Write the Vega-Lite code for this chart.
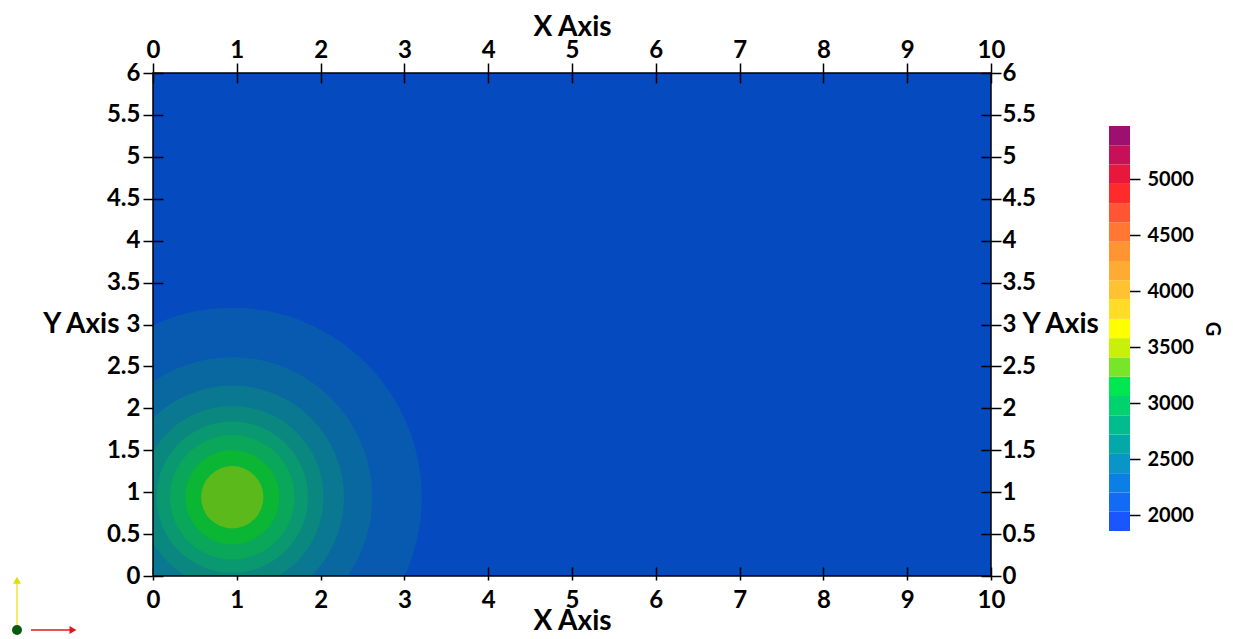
{
  "$schema": "https://vega.github.io/schema/vega-lite/v6.json",
  "padding": {"left": 11, "top": 13, "right": 5, "bottom": 3},
  "bounds": "flush",
  "spacing": 118,
  "background": "white",
  "resolve": {"scale": {"color": "independent", "size": "independent"}},
  "config": {
    "view": {"stroke": null},
    "font": "Lato",
    "axis": {
      "labelFont": "Lato", "titleFont": "Lato",
      "labelFontWeight": "bold", "titleFontWeight": "bold",
      "labelColor": "black", "titleColor": "black", "tickColor": "black",
      "labelFontSize": 24, "titleFontSize": 28,
      "grid": false, "domain": false,
      "labelOverlap": false, "labelFlush": false, "labelBound": false,
      "tickWidth": 1.5, "zindex": 1
    }
  },
  "hconcat": [
    {
      "width": 838,
      "height": 503,
      "view": {"fill": "#064ac0", "stroke": null},
      "layer": [
        {
          "data": {"values": [
            {"band": 2, "r": 2.261, "cx": 0.946, "cy": 0.94},
            {"band": 3, "r": 1.671, "cx": 0.946, "cy": 0.94},
            {"band": 4, "r": 1.333, "cx": 0.946, "cy": 0.94},
            {"band": 5, "r": 1.089, "cx": 0.946, "cy": 0.94},
            {"band": 6, "r": 0.903, "cx": 0.946, "cy": 0.94},
            {"band": 7, "r": 0.743, "cx": 0.946, "cy": 0.94},
            {"band": 8, "r": 0.561, "cx": 0.946, "cy": 0.94},
            {"band": 9, "r": 0.372, "cx": 0.946, "cy": 0.94}
          ]},
          "mark": {"type": "point", "filled": true, "opacity": 1, "clip": true, "strokeWidth": 0},
          "encoding": {
            "x": {
              "field": "cx", "type": "quantitative",
              "scale": {"domain": [0, 10], "nice": false, "zero": false},
              "axis": {
                "orient": "bottom", "values": [0, 1, 2, 3, 4, 5, 6, 7, 8, 9, 10],
                "offset": -9, "tickSize": 13, "labelPadding": 8,
                "title": "X Axis", "titleY": 54, "titleBaseline": "middle"
              }
            },
            "y": {
              "field": "cy", "type": "quantitative",
              "scale": {"domain": [0, 6], "nice": false, "zero": false},
              "axis": {
                "orient": "left", "values": [0, 0.5, 1, 1.5, 2, 2.5, 3, 3.5, 4, 4.5, 5, 5.5, 6],
                "format": "~g", "offset": -10, "tickSize": 20, "labelPadding": 3,
                "title": "Y Axis", "titleAngle": 0, "titleAlign": "right", "titleBaseline": "middle",
                "titleX": -44, "titleY": 251.5
              }
            },
            "size": {
              "field": "r", "type": "quantitative",
              "scale": {"type": "pow", "exponent": 2, "domain": [0, 3], "range": [0, 252808]},
              "legend": null
            },
            "color": {
              "field": "band", "type": "ordinal",
              "scale": {
                "domain": [2, 3, 4, 5, 6, 7, 8, 9],
                "range": ["#0859b0", "#0a68a0", "#0a7890", "#0a8880", "#0a9870", "#0aa65a", "#0bb634", "#5cb91b"]
              },
              "legend": null
            }
          }
        },
        {
          "data": {"values": [{"x0": 0, "x1": 10, "y0": 0, "y1": 6}]},
          "mark": {"type": "rect", "filled": false, "color": "black", "strokeWidth": 1.5},
          "encoding": {
            "x": {
              "field": "x0", "type": "quantitative",
              "axis": {
                "orient": "top", "values": [0, 1, 2, 3, 4, 5, 6, 7, 8, 9, 10],
                "offset": -10, "tickSize": 20, "labelPadding": 1,
                "title": "X Axis", "titleY": -55.4, "titleBaseline": "middle"
              }
            },
            "x2": {"field": "x1"},
            "y": {
              "field": "y0", "type": "quantitative",
              "axis": {
                "orient": "right", "values": [0, 0.5, 1, 1.5, 2, 2.5, 3, 3.5, 4, 4.5, 5, 5.5, 6],
                "format": "~g", "offset": -10, "tickSize": 20, "labelPadding": 1,
                "title": "Y Axis", "titleAngle": 0, "titleAlign": "left", "titleBaseline": "middle",
                "titleX": 41, "titleY": 251.5
              }
            },
            "y2": {"field": "y1"}
          }
        },
        {
          "data": {"values": [{"gx": -1.623, "gy": -0.644, "gy2": -0.07}]},
          "mark": {"type": "rule", "color": "#ecec30", "strokeWidth": 1.5, "clip": false},
          "encoding": {
            "x": {"field": "gx", "type": "quantitative", "axis": null},
            "y": {"field": "gy", "type": "quantitative", "axis": null},
            "y2": {"field": "gy2"}
          }
        },
        {
          "data": {"values": [{"gx": -1.456, "gx2": -0.98, "gy": -0.644}]},
          "mark": {"type": "rule", "color": "#e01818", "strokeWidth": 1.5, "clip": false},
          "encoding": {
            "x": {"field": "gx", "type": "quantitative", "axis": null},
            "x2": {"field": "gx2"},
            "y": {"field": "gy", "type": "quantitative", "axis": null}
          }
        },
        {
          "data": {"values": [{"gx": -1.623, "gy": -0.05}]},
          "mark": {"type": "point", "shape": "triangle-up", "filled": true, "opacity": 1, "color": "#e0e000", "size": 64, "clip": false},
          "encoding": {
            "x": {"field": "gx", "type": "quantitative", "axis": null},
            "y": {"field": "gy", "type": "quantitative", "axis": null}
          }
        },
        {
          "data": {"values": [{"gx": -0.955, "gy": -0.644}]},
          "mark": {"type": "point", "shape": "triangle-right", "filled": true, "opacity": 1, "color": "#e01818", "size": 64, "clip": false},
          "encoding": {
            "x": {"field": "gx", "type": "quantitative", "axis": null},
            "y": {"field": "gy", "type": "quantitative", "axis": null}
          }
        },
        {
          "data": {"values": [{"gx": -1.623, "gy": -0.644}]},
          "mark": {"type": "point", "shape": "circle", "filled": true, "opacity": 1, "color": "#0a5a14", "size": 100, "clip": false},
          "encoding": {
            "x": {"field": "gx", "type": "quantitative", "axis": null},
            "y": {"field": "gy", "type": "quantitative", "axis": null}
          }
        }
      ],
      "resolve": {"axis": {"x": "independent", "y": "independent"}}
    },
    {
      "width": 21,
      "height": 503,
      "data": {"values": [
        {"band": 1, "lo": 1859.8, "hi": 2032.0},
        {"band": 2, "lo": 2032.0, "hi": 2204.2},
        {"band": 3, "lo": 2204.2, "hi": 2376.4},
        {"band": 4, "lo": 2376.4, "hi": 2548.6},
        {"band": 5, "lo": 2548.6, "hi": 2720.8},
        {"band": 6, "lo": 2720.8, "hi": 2893.0},
        {"band": 7, "lo": 2893.0, "hi": 3065.2},
        {"band": 8, "lo": 3065.2, "hi": 3237.4},
        {"band": 9, "lo": 3237.4, "hi": 3409.6},
        {"band": 10, "lo": 3409.6, "hi": 3581.8},
        {"band": 11, "lo": 3581.8, "hi": 3754.0},
        {"band": 12, "lo": 3754.0, "hi": 3926.2},
        {"band": 13, "lo": 3926.2, "hi": 4098.4},
        {"band": 14, "lo": 4098.4, "hi": 4270.6},
        {"band": 15, "lo": 4270.6, "hi": 4442.8},
        {"band": 16, "lo": 4442.8, "hi": 4615.0},
        {"band": 17, "lo": 4615.0, "hi": 4787.2},
        {"band": 18, "lo": 4787.2, "hi": 4959.4},
        {"band": 19, "lo": 4959.4, "hi": 5131.6},
        {"band": 20, "lo": 5131.6, "hi": 5303.8},
        {"band": 21, "lo": 5303.8, "hi": 5476.0}
      ]},
      "mark": {"type": "rect"},
      "encoding": {
        "y": {
          "field": "lo", "type": "quantitative",
          "scale": {"domain": [1458.2, 5949.2], "nice": false, "zero": false},
          "axis": {
            "orient": "right", "values": [2000, 2500, 3000, 3500, 4000, 4500, 5000],
            "format": "d",
            "offset": -4, "tickSize": 14, "labelPadding": 7, "labelFontSize": 20,
            "title": "G", "titleFontSize": 20, "titleAngle": 90,
            "titleAlign": "center", "titleBaseline": "middle", "titleX": 85, "titleY": 255.5
          }
        },
        "y2": {"field": "hi"},
        "color": {
          "field": "band", "type": "ordinal",
          "scale": {
            "domain": [1, 2, 3, 4, 5, 6, 7, 8, 9, 10, 11, 12, 13, 14, 15, 16, 17, 18, 19, 20, 21],
            "range": ["#1a56ff", "#136af5", "#0c7fe6", "#0a95c8", "#04a8a8", "#02bc8e", "#00d26e", "#00e650", "#78e628", "#c8f00a", "#ffff00", "#ffdc28", "#ffc230", "#ffab33", "#ff9433", "#ff7733", "#ff5533", "#ff2a2a", "#e8183c", "#c81058", "#9e1070"]
          },
          "legend": null
        }
      }
    }
  ]
}
